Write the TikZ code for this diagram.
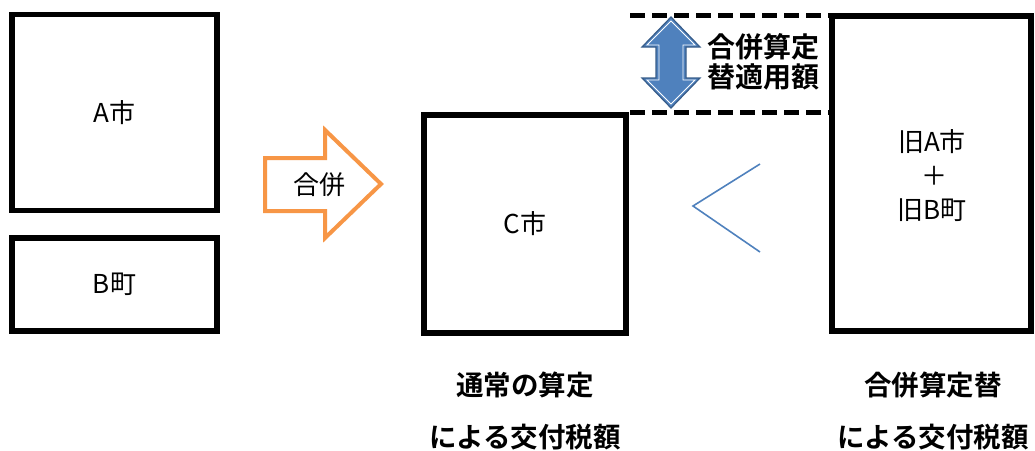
\documentclass[tikz,border=0pt]{standalone}
\usepackage{fontspec}
\newfontfamily\jp{Noto Sans CJK JP}
\newfontfamily\jpb{Noto Sans CJK JP Bold}
\definecolor{orng}{HTML}{F79646}
\definecolor{blu}{HTML}{4F81BD}
\definecolor{bludk}{HTML}{385D8A}
\begin{document}
\begin{tikzpicture}[x=1pt,y=-1pt,
  box/.style={draw=black,line width=5.5pt,fill=white,inner sep=0pt},
  txt/.style={font=\jp\fontsize{26}{34}\selectfont,align=center,inner sep=0pt},
  btxt/.style={font=\jpb\fontsize{27.5}{52}\selectfont,align=center,inner sep=0pt},
  dtxt/.style={font=\jpb\fontsize{28}{30}\selectfont,align=center,inner sep=0pt},
  dash line/.style={line width=5pt,dash pattern=on 15pt off 7pt}]
\useasboundingbox (0,0) rectangle (1035,450);
% boxes
\node[box,minimum width=205pt,minimum height=196pt] (A) at (114.5,112.5) {};
\node[box,minimum width=205pt,minimum height=93pt] (B) at (114.5,284.5) {};
\node[box,minimum width=202pt,minimum height=218pt] (C) at (525,224) {};
\node[box,minimum width=199pt,minimum height=315pt] (R) at (931.5,173.5) {};
\node[txt] (Atxt) at (A) {A市};
\node[txt] (Btxt) at (B) {B町};
\node[txt] (Ctxt) at (C) {C市};
\node[txt] (Rtxt) at (932,176) {旧A市\\\,＋\\旧B町};
% dashed lines
\coordinate (d1) at (630,15);
\coordinate (d2) at (829,15);
\coordinate (d3) at (630,112);
\coordinate (d4) at (829,112);
\draw[dash line] (d1) -- (d2);
\draw[dash line] (d3) -- (d4);
% double arrow
\draw[bludk,line width=1.2pt,fill=blu,line join=miter]
  (671,17) -- (700,47) -- (686,47) -- (686,78) -- (700,78) -- (671,108)
  -- (642,78) -- (656,78) -- (656,47) -- (642,47) -- cycle;
\draw[white,line width=0.8pt]
  (671,21) -- (695,45) -- (683,45) -- (683,80) -- (695,80) -- (671,104)
  -- (647,80) -- (659,80) -- (659,45) -- (647,45) -- cycle;
\node[dtxt] (dtx) at (763,62) {合併算定\\替適用額};
% orange arrow
\draw[orng,line width=4pt,fill=white,line join=miter]
  (265,158) -- (325,158) -- (325,130) -- (381,184) -- (325,238)
  -- (325,211) -- (265,211) -- cycle;
\node[txt] (merge) at (319,185) {合併};
% chevron
\coordinate (c1) at (760,164);
\coordinate (c2) at (693,206);
\coordinate (c3) at (760,252);
\draw[blu,line width=1.6pt] (c1) -- (c2) -- (c3);
% bottom labels
\node[btxt] (L1) at (525,411) {通常の算定\\による交付税額};
\node[btxt] (L2) at (933,411) {合併算定替\\による交付税額};
\end{tikzpicture}
\end{document}
